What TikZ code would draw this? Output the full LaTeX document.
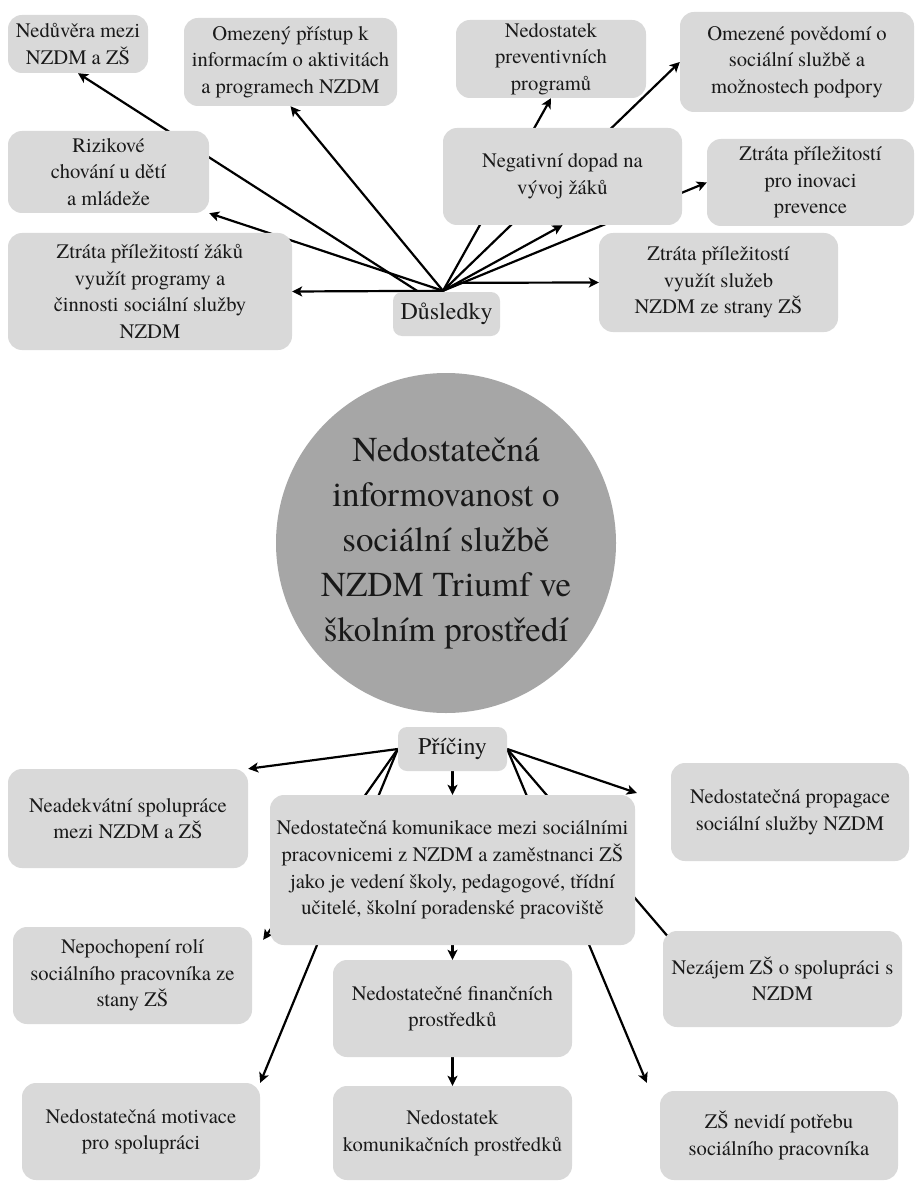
\documentclass[tikz,border=0pt]{standalone}
\usepackage{fontspec}
\IfFontExistsTF{texgyretermes-regular.otf}
  {\setmainfont{texgyretermes-regular.otf}[BoldFont=texgyretermes-bold.otf]}
  {\setmainfont{Liberation Serif}}
\usetikzlibrary{arrows.meta,calc,backgrounds}
\definecolor{boxgray}{RGB}{217,217,217}
\definecolor{circgray}{RGB}{166,166,166}
\definecolor{inkgray}{RGB}{25,25,25}
\tikzset{
  box/.style={rectangle, rounded corners=14pt, fill=boxgray, draw=none, align=center, inner sep=2pt,
    text=inkgray, font=\fontsize{20.6}{26.6}\selectfont},
  hubbox/.style={box, rounded corners=9pt, font=\fontsize{24}{28}\selectfont},
  arr/.style={line width=2.2pt, -{Stealth[length=10pt,width=10pt,inset=2.5pt]}}
}
\begin{document}
\begin{tikzpicture}[x=1pt,y=-1pt]
\useasboundingbox (0,0) rectangle (916,1182);
% central circle
\node[circle, fill=circgray, minimum size=340pt, inner sep=0pt, align=center, text=inkgray,
  font=\fontsize{35}{45}\selectfont] (main) at (446,543)
  {Nedostatečná\\informovanost o\\sociální službě\\NZDM Triumf ve\\školním prostředí};
% consequences
\node[hubbox, minimum width=107pt, minimum height=44pt] (dus) at (446.5,314) {Důsledky};
\node[box, minimum width=140pt, minimum height=58pt] (ned) at (78,44) {Nedůvěra mezi\\NZDM a ZŠ};
\node[box, minimum width=213pt, minimum height=88pt] (omp) at (290.5,62) {Omezený přístup k\\informacím o aktivitách\\a programech NZDM};
\node[box, minimum width=201pt, minimum height=82pt] (riz) at (108.5,172) {Rizikové\\chování u dětí\\a mládeže};
\node[box, minimum width=284pt, minimum height=117pt] (zzk) at (150,291.5) {Ztráta příležitostí žáků\\využít programy a\\činnosti sociální služby\\NZDM};
\node[box, minimum width=190pt, minimum height=78pt] (npp) at (551,59) {Nedostatek\\preventivních\\programů};
\node[box, minimum width=234pt, minimum height=100pt] (opv) at (797,62) {Omezené povědomí o\\sociální službě a\\možnostech podpory};
\node[box, minimum width=239pt, minimum height=97pt] (neg) at (562.5,176.5) {Negativní dopad na\\vývoj žáků};
\node[box, minimum width=207pt, minimum height=87pt] (zpi) at (810.5,182.5) {Ztráta příležitostí\\pro inovaci\\prevence};
\node[box, minimum width=239pt, minimum height=99pt] (zvs) at (718.5,282.5) {Ztráta příležitostí\\využít služeb\\NZDM ze strany ZŠ};
% causes
\node[hubbox, minimum width=109pt, minimum height=44pt] (pri) at (452.5,749) {Příčiny};
\node[box, minimum width=240pt, minimum height=99pt] (nea) at (128,818.5) {Neadekvátní spolupráce\\mezi NZDM a ZŠ};
\node[box, minimum width=365pt, minimum height=150pt] (kom) at (452.5,870) {Nedostatečná komunikace mezi sociálními\\pracovnicemi z NZDM a zaměstnanci ZŠ\\jako je vedení školy, pedagogové, třídní\\učitelé, školní poradenské pracoviště};
\node[box, minimum width=239pt, minimum height=97pt] (nep) at (132.5,975.5) {Nepochopení rolí\\sociálního pracovníka ze\\stany ZŠ};
\node[box, minimum width=238pt, minimum height=97pt] (mot) at (141,1131.5) {Nedostatečná motivace\\pro spolupráci};
\node[box, minimum width=239pt, minimum height=97pt] (fin) at (452.5,1008.5) {Nedostatečné finančních\\prostředků};
\node[box, minimum width=239pt, minimum height=94pt] (nkp) at (452.5,1133) {Nedostatek\\komunikačních prostředků};
\node[box, minimum width=238pt, minimum height=98pt] (prop) at (790,812) {Nedostatečná propagace\\sociální služby NZDM};
\node[box, minimum width=239pt, minimum height=96pt] (nez) at (782.5,979) {Nezájem ZŠ o spolupráci s\\NZDM};
\node[box, minimum width=238pt, minimum height=89pt] (nev) at (779,1135.5) {ZŠ nevidí potřebu\\sociálního pracovníka};
% connector end points
\coordinate (h1) at ($(dus.north)+(-3.5,-1)$);
\coordinate (h2) at ($(dus.north)+(-29.5,-1)$);
\coordinate (h3) at ($(dus.north)+(11.5,-9)$);
\coordinate (tprop) at ($(prop.west)+(-34,-19)$);
\coordinate (tnep) at ($(nep.north east)+(11,13)$);
\coordinate (tnez) at ($(nez.north west)+(25,29)$);
\coordinate (tnev) at ($(nev.north west)+(-13,-8)$);
\begin{pgfonlayer}{background}
\fill[white] (0,0) rectangle (916,1182);
\draw[arr] (h2) -- (ned.south);
\draw[arr] (h1) -- (riz.south east);
\draw[arr] (h1) -- (zzk.east);
\draw[arr] (h1) -- (omp.south);
\draw[arr] (h1) -- (npp.south);
\draw[arr] (h1) -- (opv.west);
\draw[arr] (h1) -- (neg.south);
\draw[arr] (h1) -- (zpi.west);
\draw[arr] (h3) -- (zvs.west);
\draw[arr] (pri.west) -- (nea.north east);
\draw[arr] (pri.south) -- (kom.north);
\draw[arr] (pri.west) -- (tnep);
\draw[arr] (pri.west) -- (mot.north east);
\draw[arr] (pri.east) -- (tprop);
\draw[arr] (pri.east) -- (tnez);
\draw[arr] (pri.east) -- (tnev);
\draw[arr] (kom.south) -- (fin.north);
\draw[arr] (fin.south) -- (nkp.north);
\end{pgfonlayer}
\end{tikzpicture}
\end{document}
